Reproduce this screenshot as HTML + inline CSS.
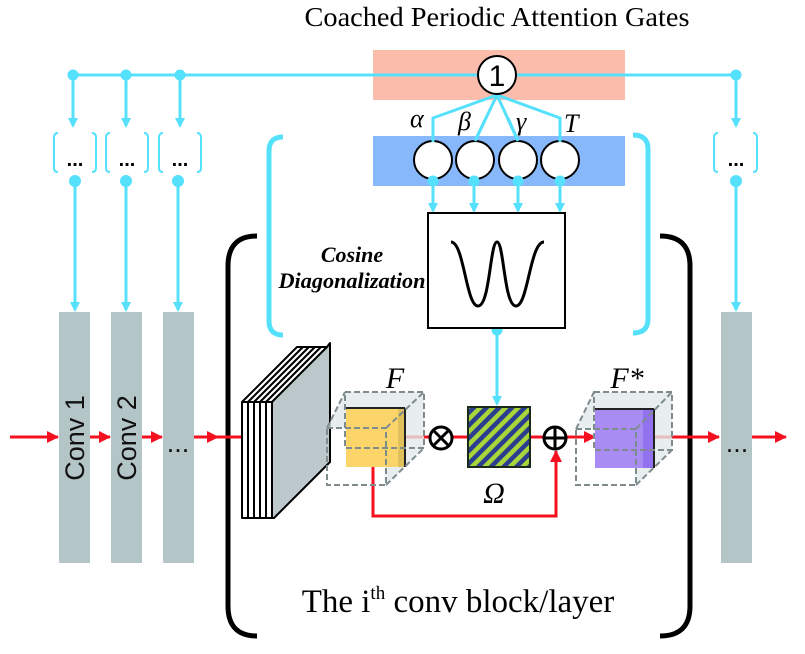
<!DOCTYPE html>
<html><head><meta charset="utf-8"><style>
html,body{margin:0;padding:0;background:#fff;}
svg{display:block;}
</style></head><body>
<svg width="805" height="654" viewBox="0 0 805 654" xmlns="http://www.w3.org/2000/svg">
<defs>
<marker id="ac" markerWidth="10" markerHeight="10" refX="8" refY="5" orient="auto" markerUnits="userSpaceOnUse"><path d="M0,0 L10,5 L0,10 z" fill="#55e0fb"/></marker>
<marker id="ar" markerWidth="12" markerHeight="12" refX="11" refY="6" orient="auto" markerUnits="userSpaceOnUse"><path d="M0,0 L12,6 L0,12 z" fill="#f51020"/></marker>
<pattern id="st" width="9" height="9" patternUnits="userSpaceOnUse" patternTransform="rotate(45)">
<rect width="9" height="9" fill="#a8d63a"/><rect width="4.5" height="9" fill="#2a3d8f"/>
</pattern>
</defs>

<text x="497" y="26" font-family="Liberation Serif, serif" font-size="27" text-anchor="middle" textLength="385" lengthAdjust="spacingAndGlyphs">Coached Periodic Attention Gates</text>

<rect x="373" y="50" width="252" height="50" fill="#fbbcac"/>
<rect x="373" y="136" width="252" height="50" fill="#87b8fb"/>

<g stroke="#55e0fb" stroke-width="3" fill="none">
<line x1="73" y1="75" x2="736" y2="75"/>
<line x1="73" y1="75" x2="73" y2="126" marker-end="url(#ac)"/>
<line x1="126" y1="75" x2="126" y2="126" marker-end="url(#ac)"/>
<line x1="180" y1="75" x2="180" y2="126" marker-end="url(#ac)"/>
<line x1="736" y1="75" x2="736" y2="126" marker-end="url(#ac)"/>
<line x1="75" y1="181" x2="75" y2="310" marker-end="url(#ac)"/>
<line x1="126" y1="181" x2="126" y2="310" marker-end="url(#ac)"/>
<line x1="178" y1="181" x2="178" y2="310" marker-end="url(#ac)"/>
<line x1="736" y1="181" x2="736" y2="310" marker-end="url(#ac)"/>
<polyline points="497,95 433,118 433,142"/>
<polyline points="497,95 475,141"/>
<polyline points="497,95 518,141"/>
<polyline points="497,95 560,118 560,142"/>
<line x1="433" y1="181" x2="433" y2="211" marker-end="url(#ac)"/>
<line x1="474" y1="181" x2="474" y2="211" marker-end="url(#ac)"/>
<line x1="518" y1="181" x2="518" y2="211" marker-end="url(#ac)"/>
<line x1="560" y1="181" x2="560" y2="211" marker-end="url(#ac)"/>
<line x1="497" y1="330" x2="497" y2="404" marker-end="url(#ac)"/>
</g>
<g fill="#55e0fb">
<circle cx="73" cy="75" r="5.5"/><circle cx="126" cy="75" r="5.5"/><circle cx="180" cy="75" r="5.5"/><circle cx="736" cy="75" r="5.5"/>
<circle cx="75" cy="181" r="6"/><circle cx="126" cy="181" r="6"/><circle cx="178" cy="181" r="6"/><circle cx="736" cy="181" r="6"/>
<circle cx="497" cy="330" r="5.5"/>
</g>
<g stroke="#55e0fb" stroke-width="2" fill="none">
<path d="M58,133 q-4,0 -4,5 v30 q0,4 4,4"/><path d="M92,133 q4,0 4,5 v30 q0,4 -4,4"/>
<path d="M110,133 q-4,0 -4,5 v30 q0,4 4,4"/><path d="M144,133 q4,0 4,5 v30 q0,4 -4,4"/>
<path d="M163,133 q-4,0 -4,5 v30 q0,4 4,4"/><path d="M197,133 q4,0 4,5 v30 q0,4 -4,4"/>
<path d="M718,133 q-4,0 -4,5 v30 q0,4 4,4"/><path d="M753,133 q4,0 4,5 v30 q0,4 -4,4"/>
</g>
<g font-family="Liberation Sans, sans-serif" font-size="20" font-weight="bold" text-anchor="middle">
<text x="75" y="166">...</text><text x="127" y="166">...</text><text x="180" y="166">...</text><text x="736" y="166">...</text>
</g>

<circle cx="497" cy="75" r="19" fill="#fff" stroke="#000" stroke-width="2"/>
<text x="497" y="86" font-family="Liberation Sans, sans-serif" font-size="30" text-anchor="middle">1</text>
<g fill="#fff" stroke="#000" stroke-width="2">
<circle cx="433" cy="160" r="19"/><circle cx="475" cy="160" r="19"/><circle cx="518" cy="160" r="19"/><circle cx="560" cy="160" r="19"/>
</g>
<g stroke="#55e0fb" stroke-width="3"><line x1="433" y1="118" x2="433" y2="142"/><line x1="560" y1="118" x2="560" y2="142"/><line x1="486" y1="118" x2="475" y2="141"/><line x1="508" y1="118" x2="518" y2="141"/></g>
<g fill="#55e0fb"><circle cx="433" cy="181" r="5.5"/><circle cx="474" cy="181" r="5.5"/><circle cx="518" cy="181" r="5.5"/><circle cx="560" cy="181" r="5.5"/></g>
<g font-family="Liberation Serif, serif" font-size="26" font-style="italic">
<text x="410" y="127">α</text><text x="458" y="130">β</text><text x="516" y="130">γ</text><text x="564" y="132">T</text>
</g>

<g stroke="#55e0fb" stroke-width="5" fill="none">
<path d="M283,137 q-14,0 -14,14 v170 q0,14 14,14"/>
<path d="M633,135 q15,0 15,14 v170 q0,14 -15,14"/>
</g>

<rect x="428" y="213" width="137" height="115" fill="#fff" stroke="#000" stroke-width="2"/>
<path d="M451,242 C464,242 466,306 478,306 C490,306 490,242 497,242 C504,242 504,306 516,306 C528,306 530,242 544,242" fill="none" stroke="#000" stroke-width="3"/>
<g font-family="Liberation Serif, serif" font-size="22" font-style="italic" font-weight="bold" text-anchor="middle">
<text x="352" y="262">Cosine</text><text x="352" y="288" textLength="147" lengthAdjust="spacingAndGlyphs">Diagonalization</text>
</g>

<g stroke="#000" stroke-width="5" fill="none">
<path d="M257,236 q-29,0 -29,30 v340 q0,30 29,30"/>
<path d="M660,236 q30,0 30,30 v340 q0,30 -30,30"/>
</g>

<g fill="#b4c5c8">
<rect x="59" y="312" width="31" height="251"/><rect x="111" y="312" width="31" height="251"/><rect x="163" y="312" width="31" height="251"/><rect x="721" y="312" width="31" height="251"/>
</g>

<g stroke="#f51020" stroke-width="3" fill="none">
<line x1="10" y1="437" x2="58" y2="437" marker-end="url(#ar)"/>
<line x1="90" y1="437" x2="110" y2="437" marker-end="url(#ar)"/>
<line x1="142" y1="437" x2="162" y2="437" marker-end="url(#ar)"/>
<line x1="194" y1="437" x2="218" y2="437" marker-end="url(#ar)"/>
<line x1="218" y1="437" x2="244" y2="437"/>
<line x1="405" y1="437" x2="430" y2="437"/>
<line x1="453" y1="437" x2="468" y2="437"/>
<line x1="530" y1="437" x2="543" y2="437"/>
<line x1="567" y1="437" x2="595" y2="437" marker-end="url(#ar)"/>
<line x1="654" y1="437" x2="719" y2="437" marker-end="url(#ar)"/>
<line x1="752" y1="437" x2="786" y2="437" marker-end="url(#ar)"/>
<polyline points="373,467 373,516 556,516 556,451" marker-end="url(#ar)"/>
</g>
<g font-family="Liberation Sans, sans-serif" font-size="27" text-anchor="middle" fill="#111">
<text transform="translate(84,438) rotate(-90)">Conv 1</text>
<text transform="translate(136,438) rotate(-90)">Conv 2</text>
<text x="178" y="452">...</text>
<text x="737" y="452">...</text>
</g>

<g stroke="#000" stroke-width="2" stroke-linejoin="round">
<polygon points="242,402 297,347 303,347 248,402" fill="#fff"/>
<rect x="242" y="402" width="6" height="116" fill="#fff"/>
<polygon points="248,402 303,347 309,347 254,402" fill="#fff"/>
<rect x="248" y="402" width="6" height="116" fill="#fff"/>
<polygon points="254,402 309,347 315,347 260,402" fill="#fff"/>
<rect x="254" y="402" width="6" height="116" fill="#fff"/>
<polygon points="260,402 315,347 321,347 266,402" fill="#fff"/>
<rect x="260" y="402" width="6" height="116" fill="#fff"/>
<polygon points="266,402 321,347 327,347 272,402" fill="#fff"/>
<rect x="266" y="402" width="6" height="116" fill="#fff"/>
<polygon points="272,402 327,347 330,343 330,462 274,518 272,518" fill="#bcc8cb"/>
</g>

<polygon points="345,392 424,392 424,448 386,485 386,428 327,428" fill="#e2e8e8" fill-opacity="0.8"/>
<rect x="346" y="408" width="52" height="59" fill="#fcd56a"/>
<rect x="398" y="408" width="7" height="59" fill="#dfc05c"/>
<line x1="346" y1="408" x2="405" y2="408" stroke="#222" stroke-width="2"/>
<line x1="405" y1="408" x2="405" y2="467" stroke="#222" stroke-width="2"/>
<g fill="none" stroke="#7f8c8d" stroke-width="2" stroke-dasharray="6,3">
<rect x="327" y="428" width="59" height="57"/>
<line x1="327" y1="428" x2="345" y2="392"/><line x1="386" y1="428" x2="424" y2="392"/><line x1="386" y1="485" x2="424" y2="448"/>
<rect x="345" y="392" width="79" height="56"/>
</g>
<text x="395" y="388" font-family="Liberation Serif, serif" font-size="30" font-style="italic" text-anchor="middle">F</text>

<circle cx="441" cy="438" r="11" fill="#fff" stroke="#000" stroke-width="3"/>
<line x1="433" y1="430" x2="449" y2="446" stroke="#000" stroke-width="3"/><line x1="449" y1="430" x2="433" y2="446" stroke="#000" stroke-width="3"/>

<rect x="468" y="407" width="62" height="60" fill="url(#st)" stroke="#1a2a1a" stroke-width="2"/>
<text x="494" y="503" font-family="Liberation Serif, serif" font-size="30" font-style="italic" text-anchor="middle">Ω</text>

<circle cx="555" cy="438" r="11" fill="#fff" stroke="#000" stroke-width="3"/>
<line x1="544" y1="438" x2="566" y2="438" stroke="#000" stroke-width="3"/><line x1="555" y1="427" x2="555" y2="449" stroke="#000" stroke-width="3"/>

<polygon points="594,392 672,392 672,450 636,485 636,429 576,429" fill="#e2e8e8" fill-opacity="0.8"/>
<rect x="595" y="409" width="48" height="59" fill="#a98cf3"/>
<rect x="643" y="409" width="11" height="59" fill="#9272ef"/>
<line x1="595" y1="409" x2="654" y2="409" stroke="#222" stroke-width="2"/>
<line x1="654" y1="409" x2="654" y2="468" stroke="#222" stroke-width="2"/>
<g fill="none" stroke="#7f8c8d" stroke-width="2" stroke-dasharray="6,3">
<rect x="576" y="429" width="60" height="56"/>
<line x1="576" y1="429" x2="594" y2="392"/><line x1="636" y1="429" x2="672" y2="392"/><line x1="636" y1="485" x2="672" y2="450"/>
<rect x="594" y="392" width="78" height="58"/>
</g>
<text x="627" y="388" font-family="Liberation Serif, serif" font-size="30" font-style="italic" text-anchor="middle">F*</text>

<text x="458" y="612" font-family="Liberation Serif, serif" font-size="33" text-anchor="middle">The i<tspan font-size="19" dy="-13">th</tspan><tspan dy="13"> conv block/layer</tspan></text>
</svg>
</body></html>
